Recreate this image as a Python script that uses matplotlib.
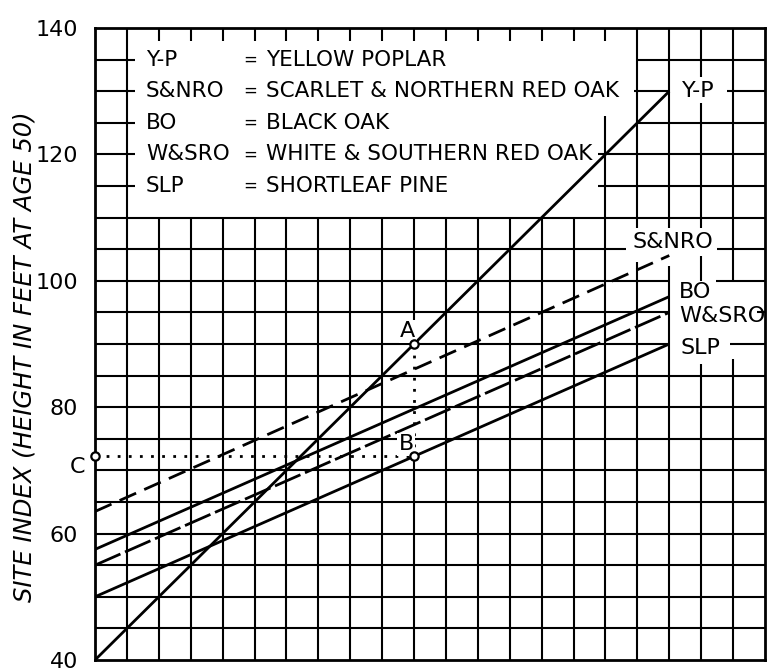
import numpy as np
import matplotlib
matplotlib.use("Agg")
import matplotlib.pyplot as plt

# site index conversion chart (grid units on x, feet on y)
species = ["Y-P", "S&NRO", "BO", "W&SRO", "SLP"]
full_names = ["YELLOW POPLAR", "SCARLET & NORTHERN RED OAK", "BLACK OAK",
              "WHITE & SOUTHERN RED OAK", "SHORTLEAF PINE"]
line_x = [0, 18]
si_start = [40, 63.5, 57.5, 55, 50]
si_end = [130, 104, 97.5, 95, 90]
yticks = [40, 60, 80, 100, 120, 140]
example_x = 10          # example reading A -> B -> C

plt.rcParams['font.family'] = ['DejaVu Sans']
FS = 16
LW_GRID = 1.5
LW_LINE = 2.0

fig = plt.figure(figsize=(7.73, 6.71), dpi=100)
ax = fig.add_axes([95 / 773, 11 / 671, 670 / 773, 632 / 671])
ax.set_xlim(0, 21)
ax.set_ylim(40, 140)
for s in ax.spines.values():
    s.set_linewidth(2.0)
ax.set_xticks([])
ax.set_yticks(yticks)
ax.set_yticklabels([str(v) for v in yticks], fontsize=FS)
ax.tick_params(axis='y', length=0, pad=12)
ax.set_ylabel("SITE INDEX (HEIGHT IN FEET AT AGE 50)", fontsize=17.5,
              style='italic')
ax.yaxis.set_label_coords(-0.088, 0.48)

# example points
slopes = [(e - s) / (line_x[1] - line_x[0]) for s, e in zip(si_start, si_end)]
yA = si_start[0] + slopes[0] * example_x
yB = si_start[4] + slopes[4] * example_x

# grid: horizontal lines every 5 ft with gaps for legend and labels
h_spans = {
    135: [(0, 1.25), (17, 21)],
    130: [(0, 1.25), (16.9, 18.0), (19.8, 21)],
    125: [(0, 1.25), (17, 21)],
    120: [(0, 1.25), (15.75, 21)],
    115: [(0, 1.25), (15.75, 21)],
    105: [(0, 16.65), (19.5, 21)],
    100: [(0, 18), (19.45, 21)],
    95: [(0, 18), (20.75, 21)],
    90: [(0, 18), (19.9, 21)],
}
for v in range(45, 140, 5):
    for a, b in h_spans.get(v, [(0, 21)]):
        ax.plot([a, b], [v, v], color='black', lw=LW_GRID, zorder=2,
                solid_capstyle='butt')

v_spans = {
    1: [(40, 140)],
    10: [(40, yB), (93.8, 110), (137.9, 140)],
    16: [(40, 126), (137.9, 140)],
    17: [(40, 103), (108.4, 140)],
    18: [(40, 102.3), (108.4, 140)],
    19: [(40, 86.8), (100, 104.0), (108.4, 128.2), (132.2, 140)],
    20: [(40, 87.6), (100, 140)],
}
for c in range(1, 21):
    for a, b in v_spans.get(c, [(40, 110), (137.9, 140)]):
        ax.plot([c, c], [a, b], color='black', lw=LW_GRID, zorder=2,
                solid_capstyle='butt')

# species lines
dash_styles = ['-', (0, (6.5, 3.2)), '-', (0, (10, 1.8)), '-']
for sp, s, e, ls in zip(species, si_start, si_end, dash_styles):
    ax.plot(line_x, [s, e], color='black', lw=LW_LINE, linestyle=ls,
            zorder=4, solid_capstyle='butt', dash_capstyle='butt')

# A -> B -> C reading
ax.plot([example_x, example_x], [yA, yB], color='black', lw=2.0,
        linestyle=(0, (1, 3)), zorder=4)
ax.plot([0, example_x], [yB, yB], color='black', lw=2.0,
        linestyle=(0, (1, 3)), zorder=4)
ax.plot([example_x, example_x, 0], [yA, yB, yB], linestyle='none',
        marker='o', ms=6, mfc='white', mec='black', mew=1.6, zorder=6,
        clip_on=False)

white = dict(facecolor='white', edgecolor='none', pad=1.0)
ax.text(example_x - 0.2, yA + 2.0, "A", fontsize=FS, ha='center',
        va='center', bbox=white, zorder=5)
ax.text(example_x - 0.25, yB + 1.9, "B", fontsize=FS, ha='center',
        va='center', bbox=white, zorder=5)
ax.text(-0.55, yB - 1.7, "C", fontsize=FS, ha='center', va='center',
        clip_on=False)

# legend block
LFS = 15.5
for i, (sp, nm) in enumerate(zip(species, full_names)):
    y = 135 - 5 * i
    ax.text(1.6, y, sp, fontsize=LFS, ha='left', va='center', zorder=5)
    ax.text(4.85, y, "=", fontsize=12, ha='center', va='center', zorder=5)
    ax.text(5.35, y, nm, fontsize=LFS, ha='left', va='center', zorder=5)

# labels at the line ends
ax.text(18.9, 130, species[0], fontsize=FS, ha='center', va='center',
        zorder=5)
ax.text(18.1, 106.2, species[1], fontsize=FS, ha='center', va='center',
        zorder=5)
ax.text(18.3, 98.3, species[2], fontsize=FS, ha='left', va='center',
        zorder=5)
ax.text(18.3, 94.4, species[3], fontsize=FS, ha='left', va='center',
        zorder=5)
ax.text(18.35, 89.3, species[4], fontsize=FS, ha='left', va='center',
        zorder=5)

fig.savefig("out.png", dpi=100, facecolor='white')
